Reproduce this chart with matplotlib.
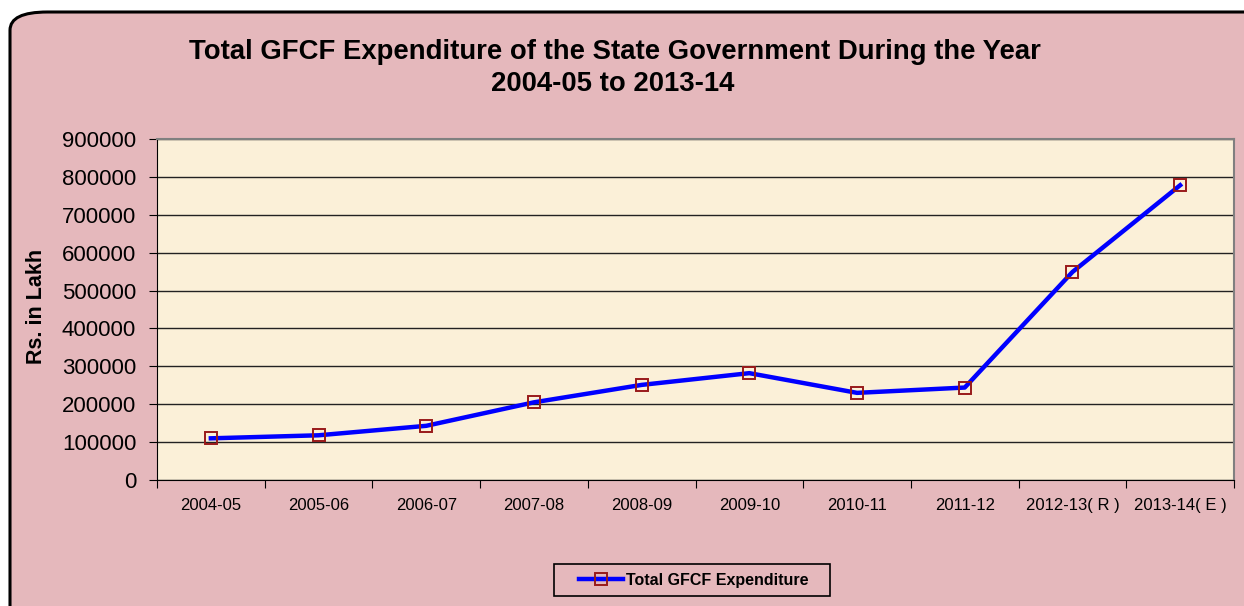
import matplotlib.pyplot as plt
from matplotlib.patches import FancyBboxPatch, Rectangle

plt.rcParams['font.family'] = ['Liberation Sans', 'DejaVu Sans']

years = ["2004-05", "2005-06", "2006-07", "2007-08", "2008-09",
         "2009-10", "2010-11", "2011-12", "2012-13( R )", "2013-14( E )"]
gfcf = [110000, 118000, 143000, 205000, 251000,
        282000, 230000, 244000, 549000, 778000]

fig = plt.figure(figsize=(12.44, 6.06), dpi=100)
fig.patch.set_facecolor("white")

# pink chart area with rounded border
bg = FancyBboxPatch((10 / 1244, -0.05), 1.05, (606 - 12) / 606 + 0.05,
                    boxstyle="round,pad=0,rounding_size=0.03",
                    transform=fig.transFigure, facecolor="#E5B8BC",
                    edgecolor="black", linewidth=2.2, zorder=-10)
fig.patches.append(bg)

ax = fig.add_axes([157 / 1244, 126 / 606, (1234 - 157) / 1244, (480 - 139) / 606])
ax.set_facecolor("#FBF0D8")

x = range(len(years))
ax.plot(x, gfcf, color="#0000FF", linewidth=3.2, marker="s", markersize=9,
        markerfacecolor="none", markeredgecolor="#991A1A", markeredgewidth=1.4,
        label="Total GFCF Expenditure", zorder=3)

ax.set_xlim(-0.5, len(years) - 0.5)
ax.set_ylim(0, 900000)
ax.set_yticks(range(0, 900001, 100000))
ax.tick_params(axis="y", labelsize=16, length=6, direction="out", pad=9)

ax.set_xticks([i + 0.5 for i in range(-1, len(years))])
ax.set_xticklabels([])
ax.set_xticks(list(x), minor=True)
ax.set_xticklabels(years, minor=True, fontsize=12)
ax.tick_params(axis="x", which="major", length=6, direction="out")
ax.tick_params(axis="x", which="minor", length=0, pad=13)

ax.yaxis.grid(True, color="#222222", linewidth=1)
ax.set_axisbelow(True)
for side in ["top", "right"]:
    ax.spines[side].set_color("#808080")
    ax.spines[side].set_linewidth(1.5)
for side in ["left", "bottom"]:
    ax.spines[side].set_color("black")

ax.set_ylabel("Rs. in Lakh", fontsize=15.5, fontweight="bold")
ax.yaxis.set_label_coords(-110 / 1077, 0.51)

fig.text(615 / 1244, 1 - 52 / 606,
         "Total GFCF Expenditure of the State Government During the Year",
         ha="center", va="center", fontsize=19.8, fontweight="bold")
fig.text(613 / 1244, 1 - 84 / 606, "2004-05 to 2013-14",
         ha="center", va="center", fontsize=19.8, fontweight="bold")

# legend box drawn separately so its padding matches the reference
box = Rectangle((554 / 1244, 1 - 596 / 606), 276 / 1244, 32 / 606,
                transform=fig.transFigure, facecolor="none",
                edgecolor="black", linewidth=1.2)
fig.patches.append(box)
leg = fig.legend(loc="center left", bbox_to_anchor=(579 / 1244, 1 - 580 / 606),
                 frameon=False, prop={"size": 11.5, "weight": "bold"},
                 handlelength=2.75, borderpad=0, borderaxespad=0,
                 handletextpad=0.2)

fig.savefig("out.png", dpi=100, facecolor=fig.get_facecolor())
